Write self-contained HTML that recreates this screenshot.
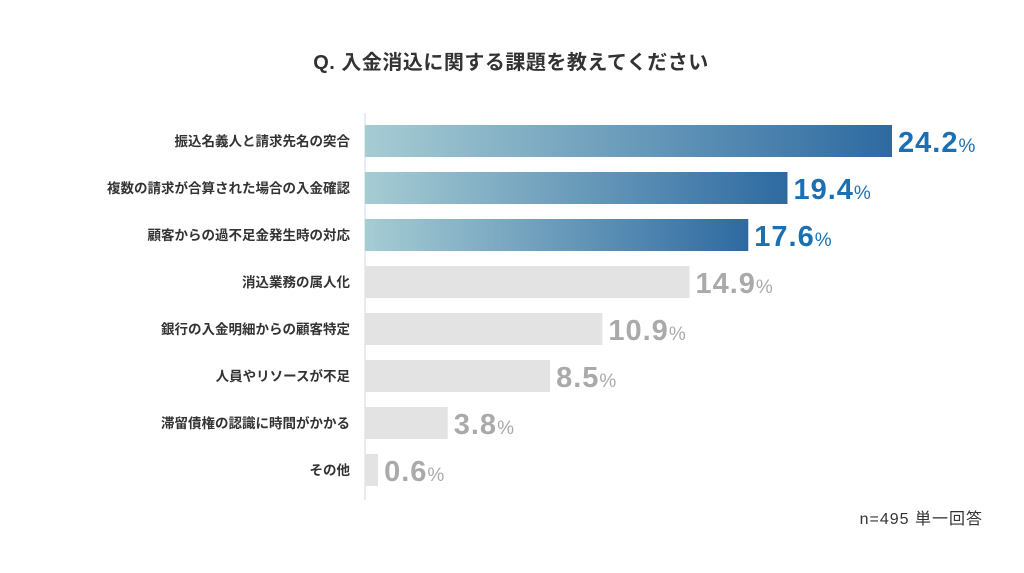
<!DOCTYPE html>
<html><head><meta charset="utf-8"><style>
body{margin:0;width:1024px;height:568px;background:#fff;overflow:hidden;font-family:"Liberation Sans","Noto Sans CJK JP",sans-serif;}
</style></head><body>
<svg width="1024" height="568">
<defs><linearGradient id="g" x1="0" x2="1" y1="0" y2="0"><stop offset="0" stop-color="#a6ccd3"/><stop offset="1" stop-color="#2e6aa1"/></linearGradient></defs>
<text x="511" y="69" text-anchor="middle" font-size="20" font-weight="bold" letter-spacing="0.5" fill="#333">Q. 入金消込に関する課題を教えてください</text>
<line x1="365" y1="113" x2="365" y2="500" stroke="#dde6ee" stroke-width="1.5"/>
<g id="bars"></g>
<text x="983" y="524" text-anchor="end" font-size="16" letter-spacing="1" fill="#333">n=495 単一回答</text>
</svg>
<script>
const categories=["振込名義人と請求先名の突合","複数の請求が合算された場合の入金確認","顧客からの過不足金発生時の対応","消込業務の属人化","銀行の入金明細からの顧客特定","人員やリソースが不足","滞留債権の認識に時間がかかる","その他"];
const values=[24.2,19.4,17.6,14.9,10.9,8.5,3.8,0.6];
const highlighted=[true,true,true,false,false,false,false,false];
const ns="http://www.w3.org/2000/svg";
const g=document.getElementById('bars');
const x0=365,scale=527/24.2,y0=125,pitch=47,bh=32;
function xs(v){return x0+v*scale;}
function ys(i){return y0+i*pitch;}
categories.forEach((c,i)=>{
 const y=ys(i),v=values[i],hi=highlighted[i];
 const r=document.createElementNS(ns,'rect');
 r.setAttribute('x',x0);r.setAttribute('y',y);r.setAttribute('width',xs(v)-x0);r.setAttribute('height',bh);
 r.setAttribute('fill',hi?'url(#g)':'#e3e3e3');
 
 
 g.appendChild(r);
 const l=document.createElementNS(ns,'text');
 l.setAttribute('x',350);l.setAttribute('y',y+bh/2+5);l.setAttribute('text-anchor','end');
 l.setAttribute('font-size','13.5');l.setAttribute('font-weight','bold');l.setAttribute('fill','#333');
 l.textContent=c;
 
 
 g.appendChild(l);
 const t=document.createElementNS(ns,'text');
 t.setAttribute('x',xs(v)+6);t.setAttribute('y',y+bh/2+11);
 t.setAttribute('font-size','29');t.setAttribute('font-weight','bold');t.setAttribute('letter-spacing','1');t.setAttribute('fill',hi?'#1a70b3':'#aaaaaa');
 t.innerHTML=v.toFixed(1)+'<tspan font-size="19" font-weight="normal" letter-spacing="0">%</tspan>';
 
 
 g.appendChild(t);
});
</script>
</body></html>
